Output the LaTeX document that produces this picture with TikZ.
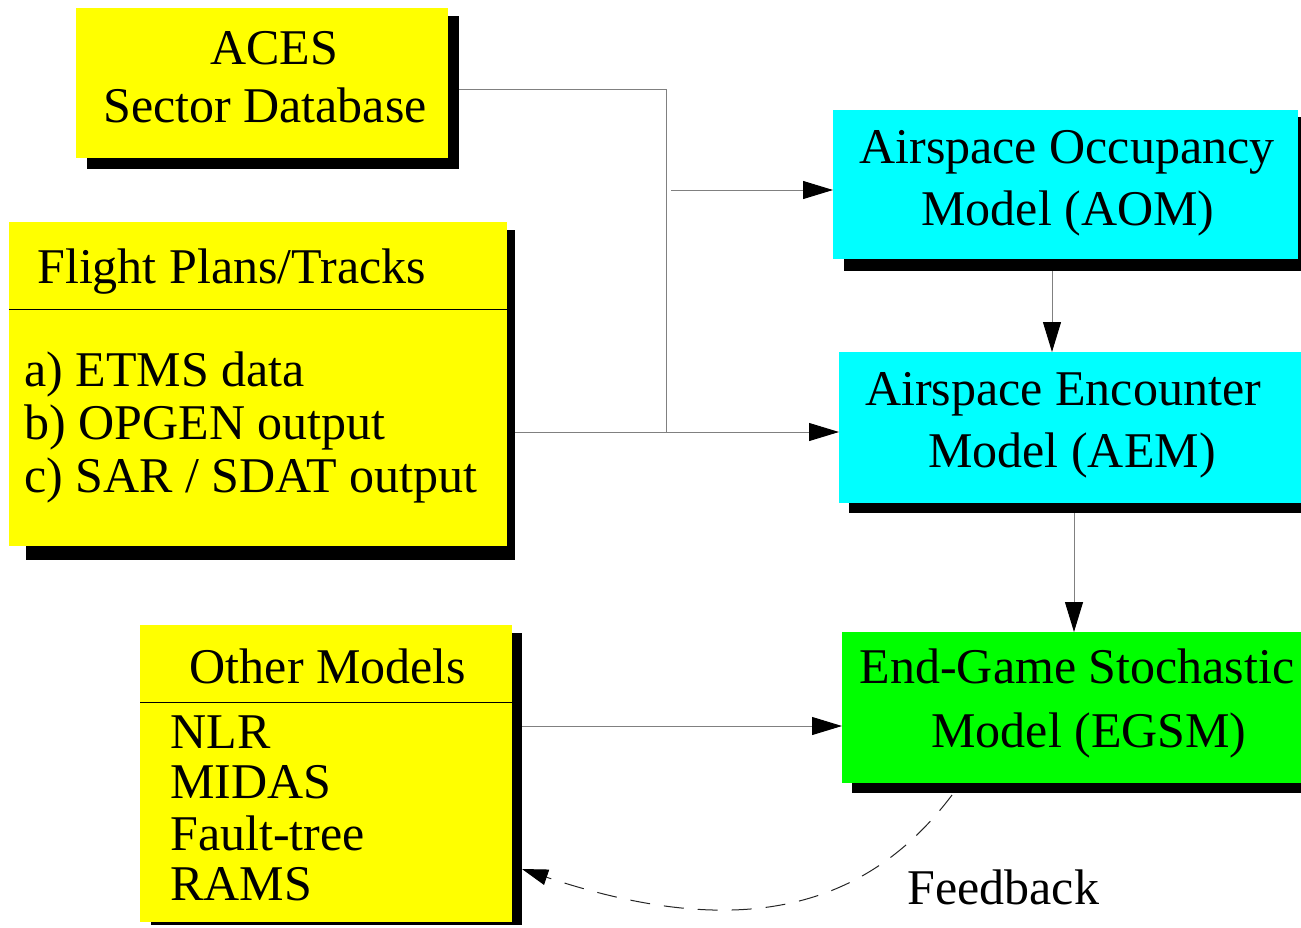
\documentclass[tikz,border=0pt]{standalone}
\usepackage{fontspec}
\setmainfont{Liberation Serif}
\usetikzlibrary{arrows.meta,fit,calc}
\definecolor{fyellow}{RGB}{255,255,0}
\definecolor{fcyan}{RGB}{0,255,255}
\definecolor{fgreen}{RGB}{0,255,0}
\pgfdeclarelayer{conlayer}
\pgfdeclarelayer{shadowlayer}
\pgfsetlayers{conlayer,shadowlayer,main}
\begin{document}
\begin{tikzpicture}[x=0.5pt,y=-0.5pt,
  box/.style={inner sep=0pt, outer sep=0pt, draw=none},
  lbl/.style={inner sep=0pt, font=\fontsize{25}{30}\selectfont, anchor=base},
  lbll/.style={lbl, anchor=base west},
  conn/.style={draw=black!50, line width=0.5pt},
  arr/.style={conn, -{Triangle[length=15pt,width=9pt,color=black]}},
  fbarr/.style={draw=black!85, line width=0.5pt, dash pattern=on 10pt off 7pt, -{Triangle[length=13pt,width=8pt,color=black]}},
  sepline/.style={draw=black, line width=0.5pt},
  shadowbox/.style={fill=black}]
\useasboundingbox (0,0) rectangle (1301,927);
\clip (0,0) rectangle (1301,927);

% helper coordinates
\coordinate (jB) at (666,432);
\coordinate (jA) at (671,190);
\coordinate (xA) at (1052,0);
\coordinate (xB) at (1074,0);
\coordinate (yC) at (0,726);
\coordinate (fbS) at (952,795);
\coordinate (fbE) at (522,869);
\coordinate (ysepF) at (0,309);
\coordinate (ysepO) at (0,702);

% boxes
\node[box, fill=fyellow, fit={(76,8) (448,158)}] (aces) {};
\node[box, fill=fyellow, fit={(9,222) (507,546)}] (flight) {};
\node[box, fill=fcyan, fit={(833,110) (1298,259)}] (aom) {};
\node[box, fill=fcyan, fit={(839,352) (1320,503)}] (aem) {};
\node[box, fill=fgreen, fit={(842,632) (1320,783)}] (egsm) {};
\node[box, fill=fyellow, fit={(140,625) (512,922)}] (other) {};

% shadows
\begin{pgfonlayer}{shadowlayer}
\fill[shadowbox] (87,16) rectangle (459,169);
\fill[shadowbox] (26,230) rectangle (515,560);
\fill[shadowbox] (844,117) rectangle (1320,271);
\fill[shadowbox] (849,360) rectangle (1320,513);
\fill[shadowbox] (852,640) rectangle (1320,793);
\fill[shadowbox] (151,633) rectangle (522,925);
\end{pgfonlayer}

% compartment separators
\draw[sepline] (flight.west |- ysepF) -- (flight.east |- ysepF);
\draw[sepline] (other.west |- ysepO) -- (other.east |- ysepO);

% texts
\node[lbl] (acesA) at (274,64) {ACES};
\node[lbl] (acesB) at (265,122) {Sector Database};
\node[lbll] (flightT) at (37,283) {Flight Plans/Tracks};
\node[lbll] (flightA) at (24,386) {a) ETMS data};
\node[lbll] (flightB) at (24,439) {b) OPGEN output};
\node[lbll] (flightC) at (24,492) {c) SAR / SDAT output};
\node[lbl] (aomA) at (1067,163) {Airspace Occupancy};
\node[lbl] (aomB) at (1068,225) {Model (AOM)};
\node[lbl] (aemA) at (1063,405) {Airspace Encounter};
\node[lbl] (aemB) at (1072,467) {Model (AEM)};
\node[lbl] (egsmA) at (1077,683) {End-Game Stochastic};
\node[lbl] (egsmB) at (1089,747) {Model (EGSM)};
\node[lbl] (otherT) at (328,683) {Other Models};
\node[lbll] (otherA) at (170,748) {NLR};
\node[lbll] (otherB) at (170,798) {MIDAS};
\node[lbll] (otherC) at (170,850) {Fault-tree};
\node[lbll] (otherD) at (170,900) {RAMS};
\node[lbll] (fbL) at (907,904) {Feedback};

% connectors
\begin{pgfonlayer}{conlayer}
\draw[conn] ($(aces.east)+(0,6)$) -| (jB);
\draw[arr] (flight.east |- jB) -- (aem.west |- jB);
\draw[arr] (jA) -- (aom.west |- jA);
\draw[arr] (aom.south -| xA) -- (aem.north -| xA);
\draw[arr] (aem.south -| xB) -- (egsm.north -| xB);
\draw[arr] (other.east |- yC) -- (egsm.west |- yC);
\draw[fbarr] (fbS) .. controls (862,915) and (731,939) .. (fbE);
\end{pgfonlayer}
\end{tikzpicture}
\end{document}
